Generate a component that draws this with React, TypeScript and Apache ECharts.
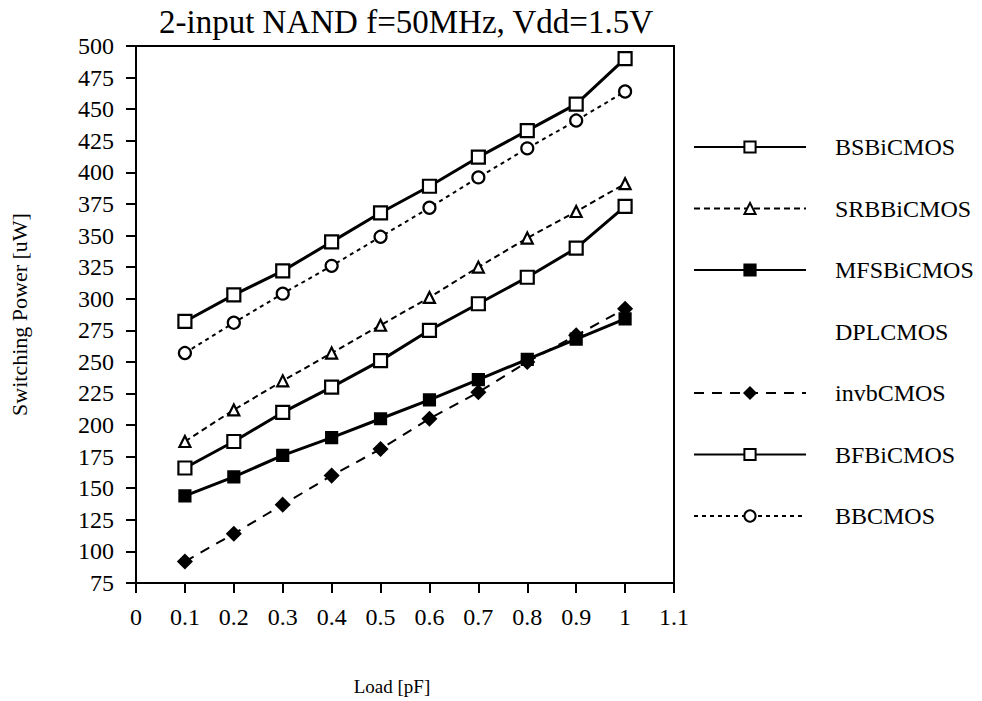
import React, { useEffect, useRef } from "react";
import * as echarts from "echarts";

const loads = [0.1, 0.2, 0.3, 0.4, 0.5, 0.6, 0.7, 0.8, 0.9, 1.0];
const seriesNames = ["BSBiCMOS", "SRBBiCMOS", "MFSBiCMOS", "DPLCMOS", "invbCMOS", "BFBiCMOS", "BBCMOS"];
const bsbicmos = [282, 303, 322, 345, 368, 389, 412, 433, 454, 490];
const srbbicmos = [187, 212, 235, 257, 279, 301, 325, 348, 369, 391];
const mfsbicmos = [144, 159, 176, 190, 205, 220, 236, 252, 268, 284];
const dplcmos: number[] = [];
const invbcmos = [92, 114, 137, 160, 181, 205, 226, 250, 271, 292];
const bfbicmos = [166, 187, 210, 230, 251, 275, 296, 317, 340, 373];
const bbcmos = [257, 281, 304, 326, 349, 372, 396, 419, 441, 464];

const FONT = '"Liberation Serif", "DejaVu Serif", serif';

const toPairs = (vals: number[]) => vals.map((v, i) => [loads[i], v]);

export default function App() {
  const ref = useRef<HTMLDivElement>(null);
  useEffect(() => {
    if (!ref.current) return;
    const chart = echarts.init(ref.current, undefined, { renderer: "svg" });
    const mk = (
      name: string,
      vals: number[],
      symbol: string,
      filled: boolean,
      lineType: any,
      width: number,
      size: number
    ) => ({
      name,
      type: "line",
      data: toPairs(vals),
      symbol,
      symbolSize: size,
      showSymbol: true,
      lineStyle: { color: "#000", width, type: lineType },
      itemStyle: { color: filled ? "#000" : "#fff", borderColor: "#000", borderWidth: 2.2 },
      z: 3,
    });
    chart.setOption({
      animation: false,
      backgroundColor: "#fff",
      title: {
        text: "2-input NAND f=50MHz, Vdd=1.5V",
        left: 401,
        textAlign: "center",
        top: 0,
        textStyle: { fontFamily: FONT, fontSize: 33, fontWeight: "normal", color: "#000" },
      },
      grid: {
        left: 136,
        right: 308,
        top: 46,
        bottom: 118,
        show: true,
        borderColor: "#000",
        borderWidth: 2,
        containLabel: false,
        outerBoundsMode: "none",
      },
      legend: {
        orient: "vertical",
        left: 688,
        top: 130,
        itemWidth: 112,
        itemHeight: 14,
        itemGap: 37.5,
        textStyle: { fontFamily: FONT, fontSize: 24, color: "#000", padding: [0, 0, 0, 24] },
        data: seriesNames,
      },
      xAxis: {
        type: "value",
        min: 0,
        max: 1.1,
        interval: 0.1,
        name: "Load [pF]",
        nameLocation: "middle",
        nameGap: 94,
        nameTextStyle: { fontFamily: FONT, fontSize: 19, color: "#000", padding: [0, 26, 0, 0] },
        axisLine: { show: true, lineStyle: { color: "#000", width: 2 } },
        axisTick: { show: true, length: 10, lineStyle: { color: "#000", width: 2 } },
        axisLabel: {
          fontFamily: FONT,
          fontSize: 24,
          color: "#000",
          margin: 22,
          formatter: (v: number) => String(Math.round(v * 10) / 10),
        },
        splitLine: { show: false },
      },
      yAxis: {
        type: "value",
        min: 75,
        max: 500,
        interval: 25,
        name: "Switching Power [uW]",
        nameLocation: "middle",
        nameGap: 106,
        nameTextStyle: { fontFamily: FONT, fontSize: 22, color: "#000" },
        axisLine: { show: true, lineStyle: { color: "#000", width: 2 } },
        axisTick: { show: true, length: 10, lineStyle: { color: "#000", width: 2 } },
        axisLabel: { fontFamily: FONT, fontSize: 24, color: "#000", margin: 22 },
        splitLine: { show: false },
      },
      series: [
        mk(seriesNames[0], bsbicmos, "rect", false, "solid", 3, 13),
        mk(seriesNames[1], srbbicmos, "triangle", false, [6, 4], 2, 11),
        mk(seriesNames[2], mfsbicmos, "rect", true, "solid", 3, 11),
        {
          name: seriesNames[3],
          type: "line",
          data: toPairs(dplcmos),
          symbol: "none",
          lineStyle: { color: "#000", width: 0, opacity: 0 },
          itemStyle: { color: "#000", opacity: 0 },
        },
        mk(seriesNames[4], invbcmos, "diamond", true, [10, 8], 2, 13),
        mk(seriesNames[5], bfbicmos, "rect", false, "solid", 3, 13),
        mk(seriesNames[6], bbcmos, "circle", false, [4, 4], 2, 12),
      ],
    });
    return () => chart.dispose();
  }, []);
  return <div ref={ref} style={{ width: 982, height: 701, position: "absolute", left: 0, top: 0 }} />;
}
